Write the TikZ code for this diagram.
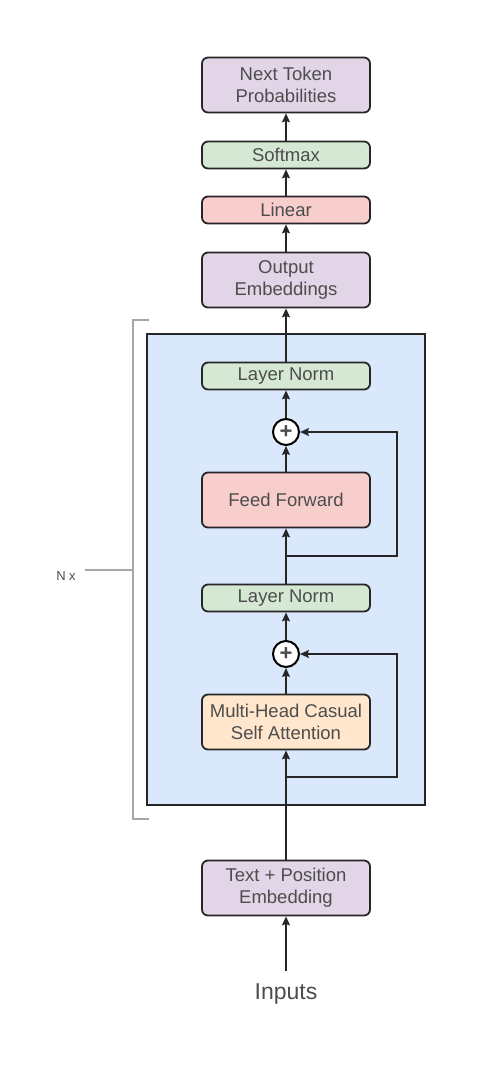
\documentclass[tikz,border=0pt]{standalone}
\usepackage{fontspec}
\setmainfont{Liberation Sans}
\usepackage{xcolor}
\usepackage{tikz}
\usetikzlibrary{positioning,arrows.meta}
\definecolor{embedcolor}{HTML}{E1D5E7}
\definecolor{normcolor}{HTML}{D5E8D4}
\definecolor{ffcolor}{HTML}{F8CECC}
\definecolor{attncolor}{HTML}{FFE6CC}
\definecolor{decodercolor}{HTML}{DAE8FC}
\definecolor{textgray}{HTML}{4D4D4D}
\definecolor{bracketgray}{HTML}{A6A6A6}

\begin{document}
\begin{tikzpicture}[x=1pt, y=-1pt,
			block/.style={draw=black!85, fill=#1, rounded corners=6pt, line width=1.8pt, minimum width=168pt, minimum height=27pt, inner sep=0pt, align=center, text=textgray, font=\fontsize{18.5}{22}\selectfont},
			tall/.style={minimum height=55pt},
			adder/.style={circle, draw=black, fill=white, line width=2pt, minimum size=26pt, inner sep=0pt, text=textgray, font=\fontsize{22}{22}\selectfont\bfseries},
			arr/.style={-{Stealth[length=9pt, width=8pt, inset=1.5pt]}, line width=1.3pt, draw=black!85},
			bracket/.style={line width=1.8pt, draw=bracketgray},
		]
		\useasboundingbox (0,0) rectangle (482,1069);

		% decoder stack
		\node[draw=black!85, fill=decodercolor, line width=2pt, minimum width=278pt, minimum height=471pt] (decoder) at (286,569.5) {};

		\node[block=embedcolor, tall] (ntp)  	at (286,85)  {Next Token\\Probabilities};
		\node[block=normcolor]       (softmax)  at (286,155) {Softmax};
		\node[block=ffcolor]         (linear)   at (286,210) {Linear};
		\node[block=embedcolor, tall] (outemb) 	at (286,280) {Output\\Embeddings};

		\node[block=normcolor]       (normb)  	at (286,376) {Layer Norm};
		\node[adder]                 (addb)   	at (286,432) {+};
		\node[block=ffcolor, tall]   (ff)     	at (286,500) {Feed Forward};
		\coordinate                  (forkb)  	at (286,556);
		\node[block=normcolor]       (norma)  	at (286,598) {Layer Norm};
		\node[adder]                 (adda)   	at (286,654) {+};
		\node[block=attncolor, tall] (attn)   	at (286,722) {Multi-Head Casual\\Self Attention};
		\coordinate                  (forka)  	at (286,777);

		\node[block=embedcolor, tall] (emb)  	at (286,888) {Text + Position\\Embedding};
		\node[text=textgray, font=\fontsize{23}{24}\selectfont, inner xsep=2pt, inner ysep=13pt] (inputs) at (286,994) {Inputs};

		\draw[arr] (inputs) -- (emb);
		\draw[arr] (emb) -- (attn);
		\draw[arr] (attn) -- (adda);
		\draw[arr] (forka) -- ++(111,0) |- (adda);
		\draw[arr] (adda) -- (norma);
		\draw[arr] (norma) -- (ff);
		\draw[arr] (ff) -- (addb);
		\draw[arr] (forkb) -- ++(111,0) |- (addb);
		\draw[arr] (addb) -- (normb);
		\draw[arr] (normb) -- (outemb);
		\draw[arr] (outemb) -- (linear);
		\draw[arr] (linear) -- (softmax);
		\draw[arr] (softmax) -- (ntp);

		% repeat bracket
		\draw[bracket] (149,320) -- (133,320) -- (133,819) -- (149,819);
		\node[text=textgray, font=\fontsize{13}{14}\selectfont] (nx) at (66,576) {N x};
		\draw[bracket] (133,570) -- (85,570);

		\end{tikzpicture}
\end{document}
